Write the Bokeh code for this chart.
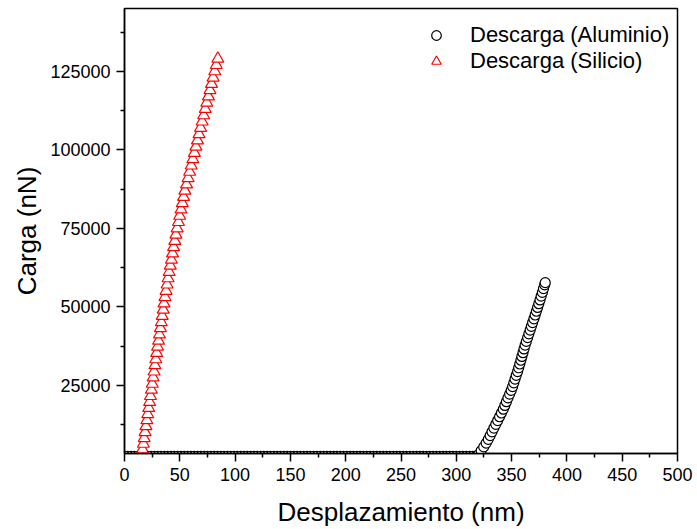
from bokeh.plotting import figure
from bokeh.models import FixedTicker, Legend, LegendItem, Range1d, BasicTickFormatter
from bokeh.embed import file_html
from bokeh.resources import INLINE

# Descarga (Silicio)
si_x = [15.6, 16.3, 17.1, 17.8, 18.6, 19.4, 20.2, 21.0, 21.9, 22.7, 23.5, 24.3,
        25.1, 25.9, 26.7, 27.5, 28.3, 29.1, 29.9, 30.8, 31.6, 32.5, 33.3, 34.1, 35.0,
        35.7, 36.6, 37.6, 38.5, 39.4, 40.4, 41.4, 42.4, 43.4, 44.4, 45.5, 46.5,
        47.6, 48.8, 49.9, 51.1, 52.3, 53.4, 54.6, 56.1, 57.5, 58.9, 60.3, 61.8,
        63.2, 64.6, 66.0, 67.4, 68.8, 70.2, 71.6, 73.0, 74.4, 75.9, 77.3, 78.7,
        80.1, 81.6, 83.0, 84.4]
si_y = [3100, 4600, 6400, 8200, 10100, 12000, 13900, 15800, 17800, 19700, 21600, 23600,
        25500, 27500, 29400, 31400, 33300, 35300, 37300, 39200, 41200, 43200, 45100, 47100, 49100,
        51100, 53100, 55100, 57100, 59100, 61100, 63100, 65000, 67000, 69000, 71000, 73000,
        75000, 77000, 79000, 81000, 83000, 85000, 87000, 89000, 91000, 93000, 95000, 97000,
        99000, 101000, 103000, 105000, 107000, 109000, 111000, 113000, 115000, 117000, 119000, 121000,
        123000, 125000, 127000, 129000]

# Descarga (Aluminio): flat part near zero load, then the unloading curve
al_flat_x = [0, 3, 6, 9, 12, 15, 18, 21, 24, 27, 30, 33, 36, 39, 42, 45, 48, 51, 54, 57,
             60, 63, 66, 69, 72, 75, 78, 81, 84, 87, 90, 93, 96, 99, 102, 105, 108, 111, 114, 117,
             120, 123, 126, 129, 132, 135, 138, 141, 144, 147, 150, 153, 156, 159, 162, 165, 168, 171, 174, 177,
             180, 183, 186, 189, 192, 195, 198, 201, 204, 207, 210, 213, 216, 219, 222, 225, 228, 231, 234, 237,
             240, 243, 246, 249, 252, 255, 258, 261, 264, 267, 270, 273, 276, 279, 282, 285, 288, 291, 294, 297,
             300, 303, 306, 309, 312, 315, 318]
al_flat_load = 2400

al_x = [320.3, 322.5, 324.8, 327.0, 328.9, 330.6, 332.3, 334.0, 335.7, 337.4, 339.1, 340.8, 342.5,
        343.9, 345.3, 346.7, 348.2, 349.6, 350.9, 352.0, 353.1, 354.2, 355.4, 356.4, 357.4, 358.4,
        359.3, 360.3, 361.2, 362.2, 363.3, 364.5, 365.6, 366.8, 367.9, 369.0, 370.2, 371.3, 372.4,
        373.5, 374.6, 375.7, 376.7, 377.8, 378.8, 379.9, 380.4]
al_y = [3000, 4200, 5400, 6600, 7800, 9000, 10200, 11400, 12600, 13800, 15000, 16200, 17400,
        18600, 19800, 21000, 22200, 23400, 24600, 25800, 27000, 28200, 29400, 30600, 31800, 33000,
        34200, 35400, 36600, 37800, 39000, 40200, 41400, 42600, 43800, 45000, 46200, 47400, 48600,
        49800, 51000, 52200, 53400, 54600, 55800, 57000, 57700]

x_ticks = [0, 50, 100, 150, 200, 250, 300, 350, 400, 450, 500]
x_minor = [25, 75, 125, 175, 225, 275, 325, 375, 425, 475]
y_ticks = [25000, 50000, 75000, 100000, 125000]
y_minor = [12500, 37500, 62500, 87500, 112500, 137500]

FONT = "Liberation Sans"

p = figure(width=697, height=529, output_backend="svg", toolbar_location=None,
           x_range=Range1d(0, 500), y_range=Range1d(3300, 145000),
           min_border_left=124, min_border_right=20, min_border_top=8, min_border_bottom=76)
p.xgrid.visible = False
p.ygrid.visible = False
p.outline_line_color = "black"
p.outline_line_width = 1.5
p.background_fill_color = "white"
p.border_fill_color = "white"

all_al_x = al_flat_x + al_x
all_al_y = [al_flat_load] * len(al_flat_x) + al_y

r_al = p.scatter(all_al_x, all_al_y, marker="circle", size=10, fill_color="white",
                 line_color="black", line_width=1.2)
r_si = p.scatter(si_x, si_y, marker="triangle", size=12, fill_color="white",
                 line_color="red", line_width=1.2)

for ax in (p.xaxis[0], p.yaxis[0]):
    ax.axis_line_width = 1.5
    ax.major_tick_in = 0
    ax.major_tick_out = 8
    ax.minor_tick_in = 0
    ax.minor_tick_out = 4
    ax.major_tick_line_width = 1.5
    ax.minor_tick_line_width = 1.5
    ax.major_label_text_font = FONT
    ax.major_label_text_font_size = "18px"
    ax.major_label_text_color = "black"
    ax.axis_label_text_font = FONT
    ax.axis_label_text_font_size = "26px"
    ax.axis_label_text_font_style = "normal"
    ax.axis_label_text_color = "black"

p.xaxis.ticker = FixedTicker(ticks=x_ticks, minor_ticks=x_minor)
p.yaxis.ticker = FixedTicker(ticks=y_ticks, minor_ticks=y_minor)
p.yaxis.formatter = BasicTickFormatter(use_scientific=False)
p.xaxis.axis_label = "Desplazamiento (nm)"
p.yaxis.axis_label = "Carga (nN)"
p.xaxis.major_label_standoff = 6
p.yaxis.major_label_standoff = 6
p.xaxis.axis_label_standoff = 13
p.yaxis.axis_label_standoff = 5
p.yaxis.major_label_orientation = "horizontal"

legend = Legend(items=[LegendItem(label="Descarga (Aluminio)", renderers=[r_al]),
                       LegendItem(label="Descarga (Silicio)", renderers=[r_si])],
                location=(300, 379), border_line_color=None, background_fill_alpha=0,
                label_text_font=FONT, label_text_font_size="22px", label_text_color="black",
                glyph_width=24, glyph_height=24, label_height=20, label_standoff=22, spacing=-3,
                padding=0, margin=0)
p.add_layout(legend)

open("out.html", "w").write(file_html(p, INLINE))
